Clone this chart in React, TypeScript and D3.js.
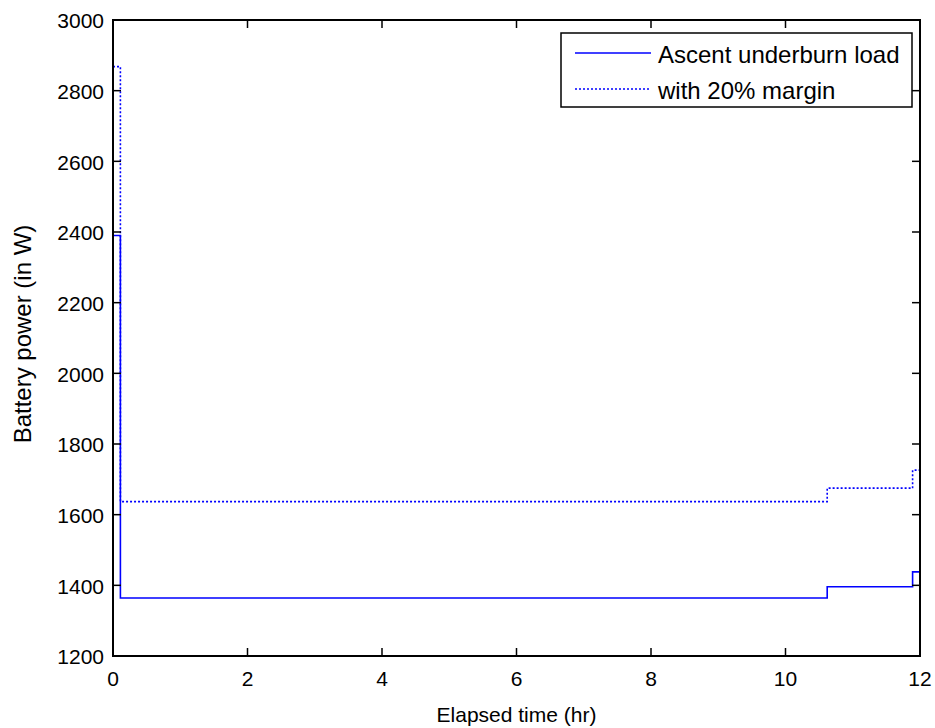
import React from "react";
import * as d3 from "d3";

const times = [0, 0.11, 10.62, 11.89, 12];
const loadValues = [2390, 1364, 1396, 1438];
const marginValues = [2868, 1637, 1675, 1726];
const xTicks = [0, 2, 4, 6, 8, 10, 12];
const yTicks = [1200, 1400, 1600, 1800, 2000, 2200, 2400, 2600, 2800, 3000];
const legendLabels = ["Ascent underburn load", "with 20% margin"];

const W = 935, H = 728;
const m = { left: 113, right: 15, top: 20, bottom: 72 };
const FONT = "Liberation Sans, Arial, sans-serif";

export default function App() {
  const x = d3.scaleLinear().domain([0, 12]).range([m.left, W - m.right]);
  const y = d3.scaleLinear().domain([1200, 3000]).range([H - m.bottom, m.top]);
  const mkPts = (vals: number[]) => {
    const pts: [number, number][] = vals.map((v, i) => [times[i], v]);
    pts.push([times[times.length - 1], vals[vals.length - 1]]);
    return pts;
  };
  const line = d3.line<[number, number]>().x(d => x(d[0])).y(d => y(d[1])).curve(d3.curveStepAfter);
  const x0 = m.left, x1 = W - m.right, y0 = H - m.bottom, y1 = m.top;
  const tl = 8;
  const fs = 21;
  const lgX = 561, lgY = 33, lgW = 351, lgH = 74;
  return (
    <svg width={W} height={H} style={{ position: "absolute", left: 0, top: 0, background: "#fff" }} fontFamily={FONT}>
      <rect x={0} y={0} width={W} height={H} fill="#fff" />
      <path d={line(mkPts(loadValues)) || ""} fill="none" stroke="#0000ff" strokeWidth={1.6} />
      <path d={line(mkPts(marginValues)) || ""} fill="none" stroke="#0000ff" strokeWidth={1.6} strokeDasharray="2,2" />
      {xTicks.map(t => (
        <g key={"x" + t}>
          <line x1={x(t)} x2={x(t)} y1={y0} y2={y0 - tl} stroke="#000" strokeWidth={1.5} />
          <line x1={x(t)} x2={x(t)} y1={y1} y2={y1 + tl} stroke="#000" strokeWidth={1.5} />
          <text x={x(t)} y={y0 + 30} textAnchor="middle" fontSize={fs}>{t}</text>
        </g>
      ))}
      {yTicks.map(t => (
        <g key={"y" + t}>
          <line x1={x0} x2={x0 + tl} y1={y(t)} y2={y(t)} stroke="#000" strokeWidth={1.5} />
          <line x1={x1} x2={x1 - tl} y1={y(t)} y2={y(t)} stroke="#000" strokeWidth={1.5} />
          <text x={x0 - 9} y={y(t) + 1} dy="0.35em" textAnchor="end" fontSize={fs}>{t}</text>
        </g>
      ))}
      <rect x={x0} y={y1} width={x1 - x0} height={y0 - y1} fill="none" stroke="#000" strokeWidth={2} />
      <text x={(x0 + x1) / 2} y={722} textAnchor="middle" fontSize={21}>Elapsed time (hr)</text>
      <text transform={`translate(31,${(y0 + y1) / 2 - 4}) rotate(-90)`} textAnchor="middle" fontSize={24}>Battery power (in W)</text>
      <rect x={lgX} y={lgY} width={lgW} height={lgH} fill="#fff" stroke="#000" strokeWidth={1.5} />
      {legendLabels.map((lab, i) => {
        const cy = lgY + 20 + i * 36;
        return (
          <g key={lab}>
            <line x1={lgX + 14} x2={lgX + 90} y1={cy} y2={cy} stroke="#0000ff" strokeWidth={1.6} strokeDasharray={i === 1 ? "2,2" : undefined} />
            <text x={lgX + 97} y={cy + 2} dy="0.35em" fontSize={24}>{lab}</text>
          </g>
        );
      })}
    </svg>
  );
}
